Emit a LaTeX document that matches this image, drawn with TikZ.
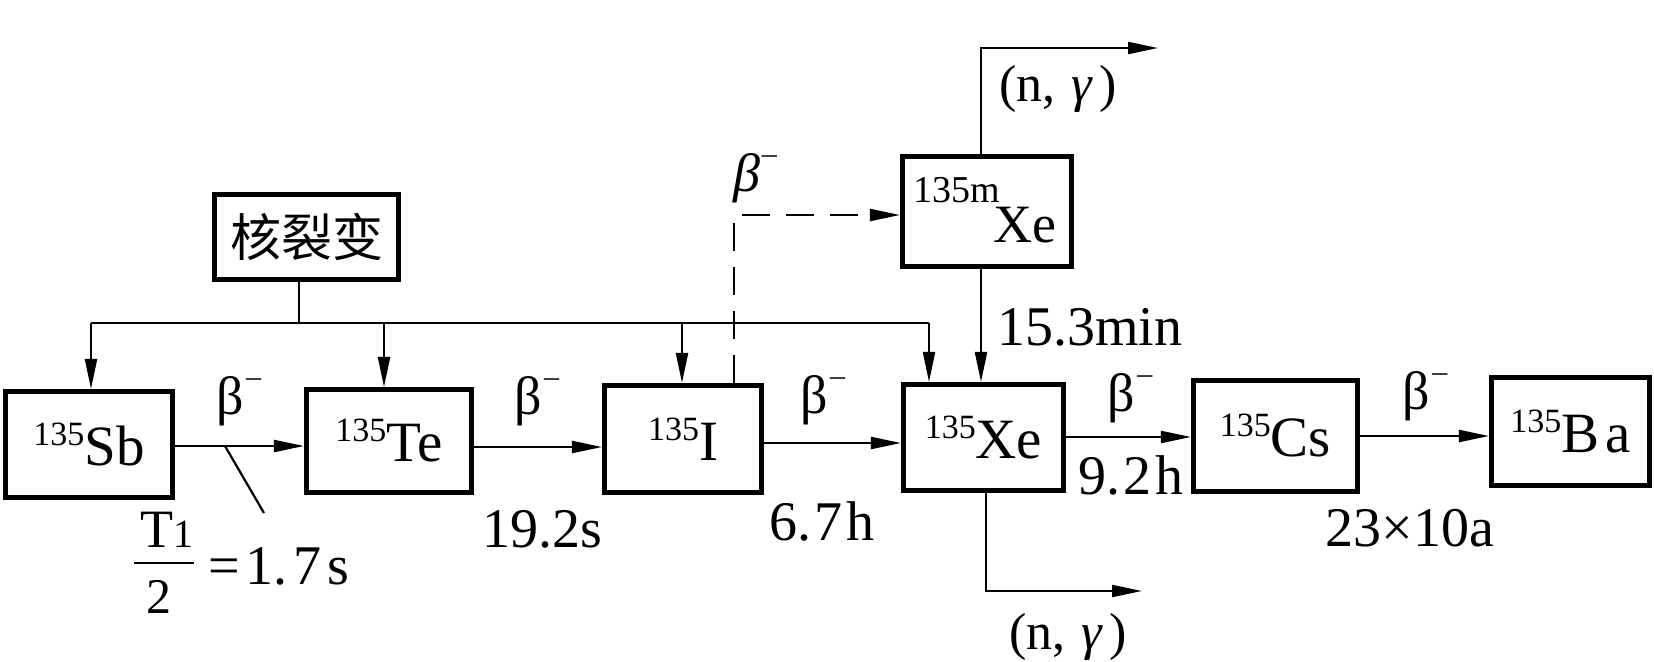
\documentclass[tikz,border=0pt]{standalone}
\usepackage{fontspec}
\setmainfont{Liberation Serif}
\newfontfamily\cjk{Noto Sans CJK SC}
\usetikzlibrary{arrows.meta}
\newcommand{\nuc}[2]{{\fontsize{17}{17}\selectfont\raisebox{10pt}{#1}}{\fontsize{28.5}{28.5}\selectfont #2}}
\newcommand{\betam}{β\kern1pt\raisebox{14pt}{\fontsize{15}{15}\selectfont –}}
\newcommand{\betami}{\textit{β}\kern1pt\raisebox{14pt}{\fontsize{15}{15}\selectfont –}}
\begin{document}
\begin{tikzpicture}[x=0.5pt,y=-0.5pt,
  box/.style={draw, line width=2.35pt, inner sep=0pt, outer sep=1.2pt},
  arr/.style={line width=1.1pt, -{Triangle[length=15pt,width=6pt]}},
  ln/.style={line width=1.1pt},
  lbl/.style={inner sep=0pt, font=\fontsize{28}{28}\selectfont},
  blbl/.style={inner sep=0pt, font=\fontsize{27}{27}\selectfont},
  ng/.style={inner sep=0pt, font=\fontsize{26}{26}\selectfont},
]
\useasboundingbox (0,0) rectangle (1654,661);
% boxes
\node[box, minimum width=92.15pt, minimum height=42.65pt] (fis) at (306.5,237) {\cjk\fontsize{25.5}{25.5}\selectfont 核裂变};
\node[box, minimum width=83.65pt, minimum height=53.15pt] (sb) at (89,444.5) {\nuc{135}{Sb}};
\node[box, minimum width=82.65pt, minimum height=51.65pt] (te) at (389,441) {\nuc{135}{Te}};
\node[box, minimum width=78.65pt, minimum height=53.65pt] (i) at (683,439) {\nuc{135}{I}};
\node[box, minimum width=80.15pt, minimum height=53.15pt] (xe) at (983.5,437.5) {\nuc{135}{Xe}};
\node[box, minimum width=82.15pt, minimum height=55.65pt] (cs) at (1275.5,436) {\nuc{135}{Cs}};
\node[box, minimum width=79.15pt, minimum height=54.15pt] (ba) at (1570.5,431.5) {\nuc{135}{B\kern3pt a}};
\node[box, minimum width=84.65pt, minimum height=55.15pt] (mxe) at (987,211.5) {};
\node[inner sep=0pt, font=\fontsize{19}{19}\selectfont] (mxs) at (957,190) {135m};
\node[inner sep=0pt, font=\fontsize{27}{27}\selectfont] (mxx) at (1025,225) {Xe};
% fission bus
\coordinate (j0) at (299,323);
\coordinate (jsb) at (91,323);
\coordinate (jte) at (384,323);
\coordinate (ji) at (682,323);
\coordinate (jxe) at (929,323);
\draw[ln] (fis.south -| j0) -- (j0);
\draw[ln] (jsb) -- (jxe);
\draw[arr] (jsb) -- (jsb |- sb.north);
\draw[arr] (jte) -- (jte |- te.north);
\draw[arr] (ji) -- (ji |- i.north);
\draw[arr] (jxe) -- (jxe |- xe.north);
% dashed branch
\coordinate (d1) at (734,215);
\draw[arr, dash pattern=on 14pt off 8pt] (d1 |- i.north) -- (d1) -- (d1 -| mxe.west);
% metastable Xe
\coordinate (m1) at (981,0);
\draw[arr] (mxe.south -| m1) -- (xe.north -| m1);
\coordinate (t1) at (981,48);
\coordinate (t2) at (1158,48);
\draw[arr] (mxe.north -| t1) -- (t1) -- (t2);
\coordinate (b1) at (986,591);
\coordinate (b2) at (1142,591);
\draw[arr] (xe.south -| b1) -- (b1) -- (b2);
% chain
\coordinate (h1) at (0,446);
\coordinate (h2) at (0,447);
\coordinate (h3) at (0,443);
\coordinate (h4) at (0,437);
\coordinate (h5) at (0,436);
\draw[arr] (sb.east |- h1) -- (te.west |- h1);
\draw[arr] (te.east |- h2) -- (i.west |- h2);
\draw[arr] (i.east |- h3) -- (xe.west |- h3);
\draw[arr] (xe.east |- h4) -- (cs.west |- h4);
\draw[arr] (cs.east |- h5) -- (ba.west |- h5);
% pointer
\coordinate (p1) at (225,446);
\coordinate (p2) at (264,513);
\draw[ln] (p1) -- (p2);
% labels
\node[blbl] (bl1) at (239,401) {\betam};
\node[blbl] (bl2) at (537,401) {\betam};
\node[blbl] (bl3) at (823,400) {\betam};
\node[blbl] (bl4) at (1130,398) {\betam};
\node[blbl] (bl5) at (1425,396) {\betam};
\node[blbl] (bu) at (755,178) {\betami};
\node[lbl] (t192) at (542,529) {19.2s};
\node[lbl] (t67) at (822,521) {6.\kern2pt 7\kern2pt h};
\node[lbl] (t92) at (1131,475) {9.\kern2pt 2\kern2pt h};
\node[lbl] (t23) at (1410,528) {23×10a};
\node[lbl, anchor=west] (t153) at (997,327) {15.3min};
\node[ng] (ng1) at (1058,89) {(n,\kern8pt\textit{γ}\kern3pt)};
\node[ng] (ng2) at (1068,637) {(n,\kern8pt\textit{γ}\kern3pt)};
% half-life fraction
\node[inner sep=0pt, font=\fontsize{27}{27}\selectfont] (tn) at (167,530) {T{\fontsize{20}{20}\selectfont 1}};
\node[fill=black, inner sep=0pt, minimum width=30pt, minimum height=1pt] (fbar) at (164,563) {};
\node[inner sep=0pt, font=\fontsize{25}{25}\selectfont] (fden) at (159,596.5) {2};
\node[lbl, anchor=west] (t17) at (208,566) {=\kern3pt 1.\kern3pt 7\kern3pt s};
\end{tikzpicture}
\end{document}
